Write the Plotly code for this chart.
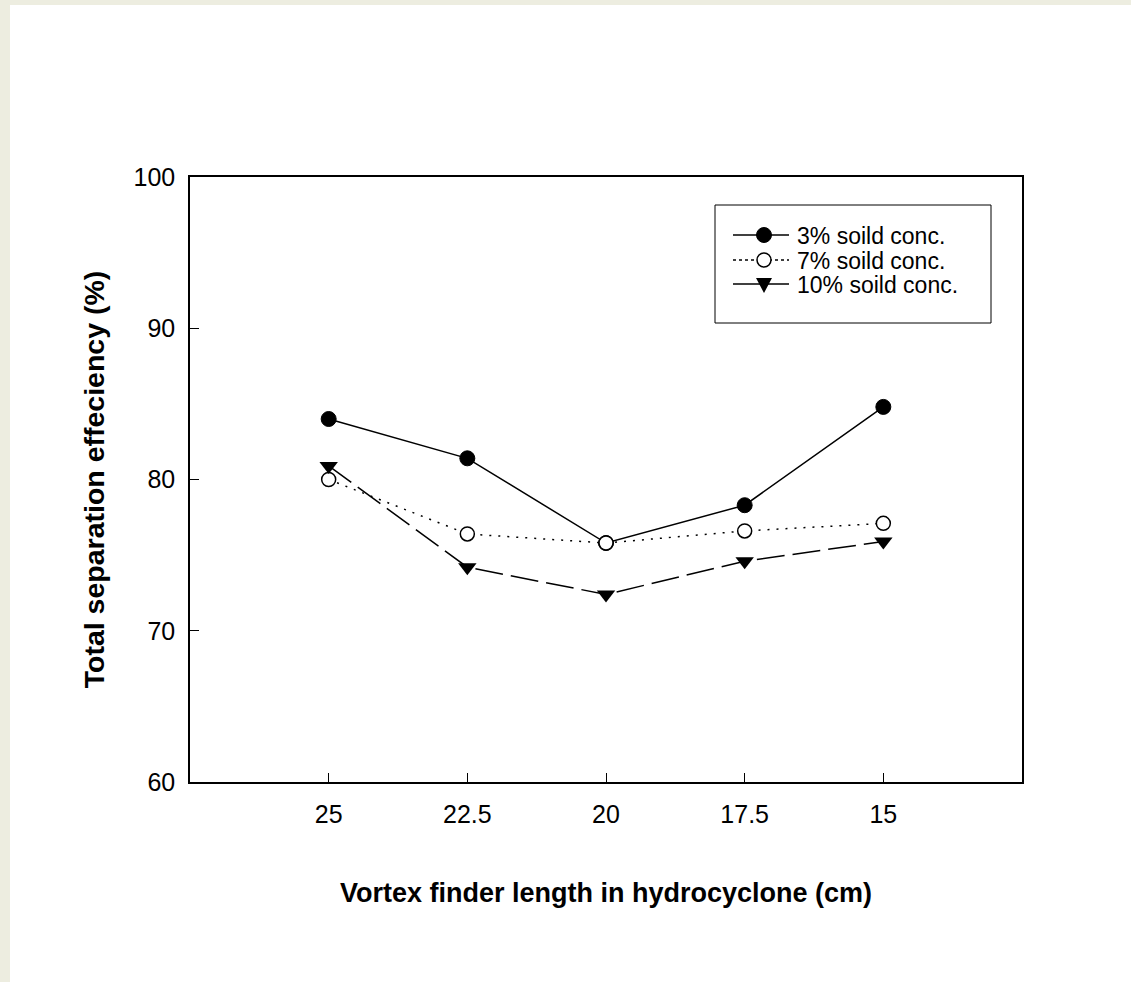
import plotly.graph_objects as go

categories = ["25", "22.5", "20", "17.5", "15"]
conc3 = [84.0, 81.4, 75.8, 78.3, 84.8]
conc7 = [80.0, 76.4, 75.8, 76.6, 77.1]
conc10 = [80.9, 74.2, 72.4, 74.6, 75.9]
series_names = ["3% soild conc.", "7% soild conc.", "10% soild conc."]
y_ticks = [60, 70, 80, 90, 100]

FONT = "Liberation Sans, Arial, sans-serif"

# plot-area geometry in pixels (used only for the hand-built legend box)
L, R, T, B = 190, 1022, 177, 782
def px(x): return (x - L) / (R - L)
def py(y): return (B - y) / (B - T)

fig = go.Figure()
fig.add_trace(go.Scatter(
    x=categories, y=conc3, name=series_names[0], mode="lines+markers",
    line=dict(color="black", width=1.5),
    marker=dict(symbol="circle", size=15, color="black", line=dict(color="black", width=1)),
))
fig.add_trace(go.Scatter(
    x=categories, y=conc7, name=series_names[1], mode="lines+markers",
    line=dict(color="black", width=1.5, dash="2px,7px"),
    marker=dict(symbol="circle", size=14, color="white", line=dict(color="black", width=1.5)),
))
fig.add_trace(go.Scatter(
    x=categories, y=conc10, name=series_names[2], mode="lines+markers",
    line=dict(color="black", width=1.5, dash="28px,8px"),
    marker=dict(symbol="triangle-down", size=16, color="black", line=dict(color="black", width=0)),
))

shapes = []
# white page area over the beige border
shapes.append(dict(type="rect", xref="paper", yref="paper",
                   x0=px(10), x1=px(1140), y0=py(990), y1=py(5),
                   fillcolor="white", line=dict(width=0), layer="below"))
# legend frame
shapes.append(dict(type="rect", xref="paper", yref="paper",
                   x0=px(715), x1=px(991), y0=py(323), y1=py(205),
                   fillcolor="white", line=dict(color="black", width=1), layer="above"))

rows = [235, 260, 284]
dashes = ["solid", "dot", "solid"]
annotations = []
for i, (name, ry) in enumerate(zip(series_names, rows)):
    shapes.append(dict(type="line", xref="paper", yref="paper",
                       x0=px(733), x1=px(789), y0=py(ry), y1=py(ry),
                       line=dict(color="black", width=1.5, dash=dashes[i]), layer="above"))
    if i == 0:
        shapes.append(dict(type="circle", xref="paper", yref="paper",
                           xsizemode="pixel", ysizemode="pixel",
                           xanchor=px(764), yanchor=py(ry), x0=-7.5, x1=7.5, y0=-7.5, y1=7.5,
                           fillcolor="black", line=dict(color="black", width=1), layer="above"))
    elif i == 1:
        shapes.append(dict(type="circle", xref="paper", yref="paper",
                           xsizemode="pixel", ysizemode="pixel",
                           xanchor=px(764), yanchor=py(ry), x0=-7, x1=7, y0=-7, y1=7,
                           fillcolor="white", line=dict(color="black", width=1.5), layer="above"))
    else:
        shapes.append(dict(type="path", xref="paper", yref="paper",
                           xsizemode="pixel", ysizemode="pixel",
                           xanchor=px(764), yanchor=py(ry),
                           path="M -8,6 L 8,6 L 0,-9 Z",
                           fillcolor="black", line=dict(color="black", width=0), layer="above"))
    annotations.append(dict(text=name, xref="paper", yref="paper",
                            x=px(796), y=py(ry), xanchor="left", yanchor="middle",
                            height=23, valign="middle", borderpad=0,
                            showarrow=False, font=dict(size=23, family=FONT, color="black")))

fig.update_layout(
    width=1131, height=982,
    margin=dict(l=L, r=1131 - R, t=T, b=982 - B),
    paper_bgcolor="#EDEDE0",
    plot_bgcolor="white",
    font=dict(family=FONT, size=25, color="black"),
    showlegend=False,
    shapes=shapes,
    annotations=annotations,
    xaxis=dict(
        type="category", range=[-1, 5],
        showline=True, linecolor="black", linewidth=1.5, mirror=True,
        ticks="inside", ticklen=9, tickcolor="black", tickwidth=1,
        showgrid=False, zeroline=False,
        tickfont=dict(size=25), ticklabelstandoff=9,
        title=dict(text="<b>Vortex finder length in hydrocyclone (cm)</b>",
                   font=dict(size=27), standoff=56),
    ),
    yaxis=dict(
        range=[60, 100], tickvals=y_ticks,
        showline=True, linecolor="black", linewidth=1.5, mirror=True,
        ticks="inside", ticklen=9, tickcolor="black", tickwidth=1,
        showgrid=False, zeroline=False,
        tickfont=dict(size=25), ticklabelstandoff=8,
        title=dict(text="<b>Total separation effeciency (%)</b>",
                   font=dict(size=28.5), standoff=21),
    ),
)

fig.write_html("out.html")
